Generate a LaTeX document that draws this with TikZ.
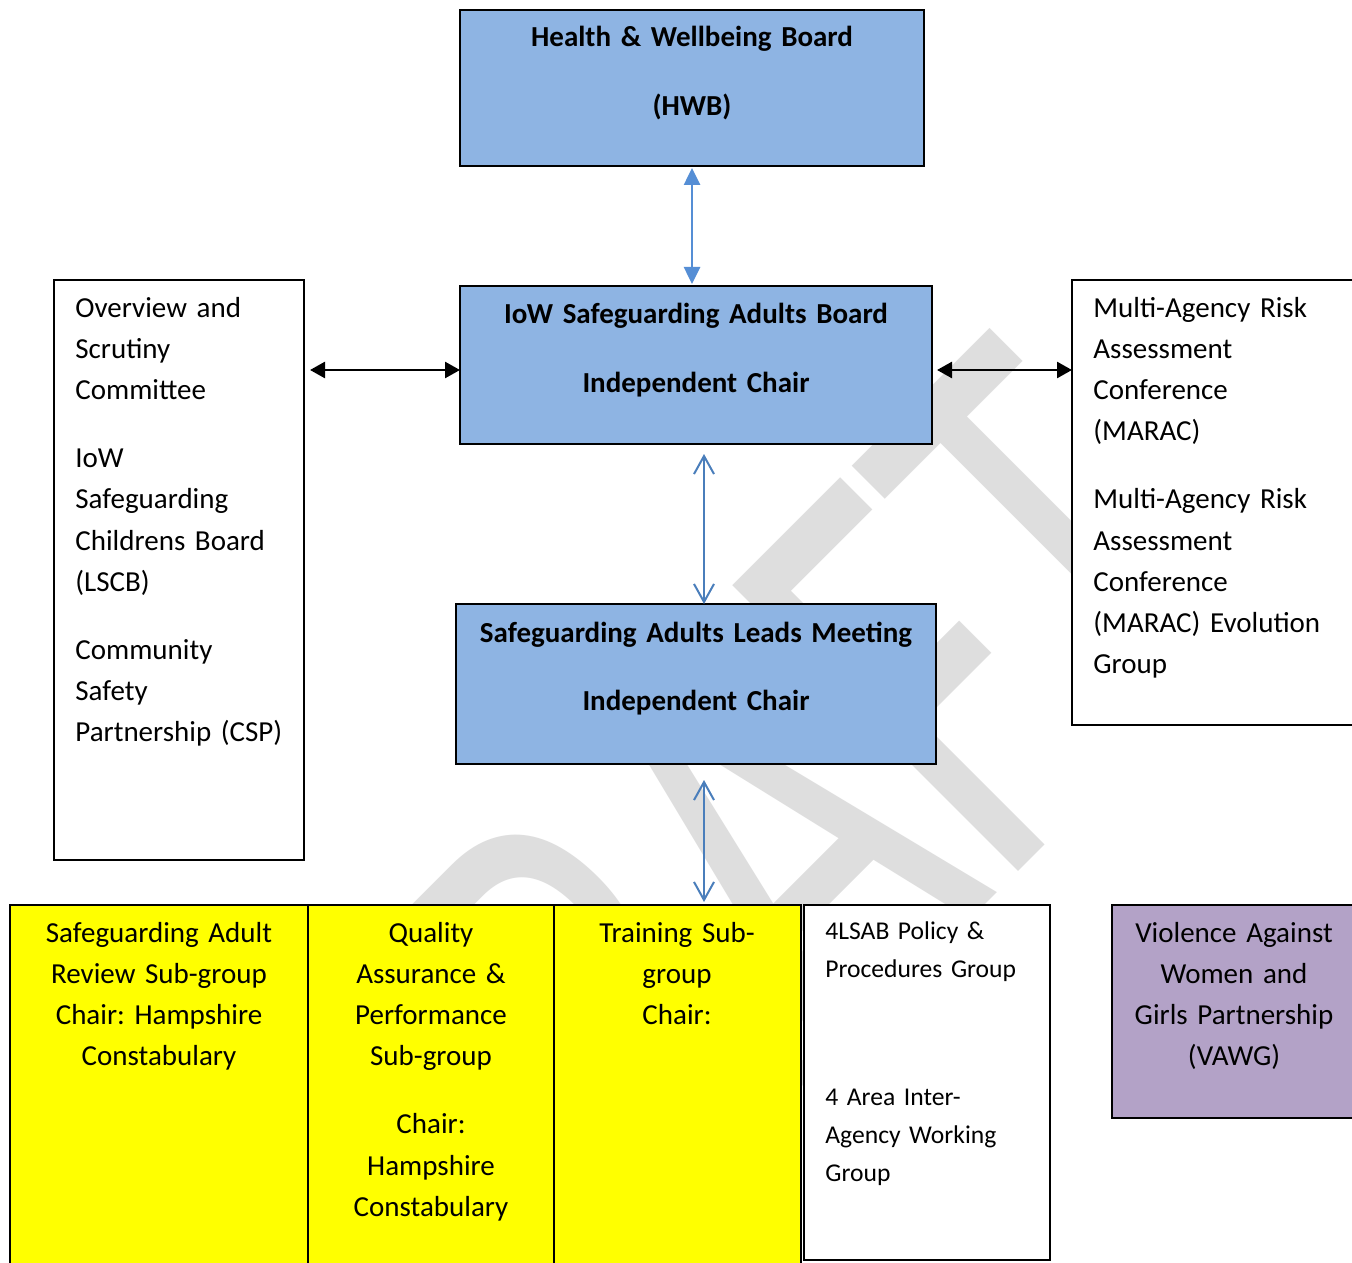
\documentclass[tikz,border=0pt]{standalone}
\usepackage{fontspec}
\setmainfont{Carlito}
\usetikzlibrary{arrows.meta}

\definecolor{boardblue}{HTML}{8EB4E3}
\definecolor{arrowblue}{HTML}{558ED5}
\definecolor{linkblue}{HTML}{4A7EBB}
\definecolor{subyellow}{HTML}{FFFF00}
\definecolor{vawgpurple}{HTML}{B3A2C7}
\definecolor{draftgrey}{HTML}{DEDEDE}

\tikzset{
  box/.style={draw=black, line width=1pt, inner sep=0pt, outer sep=0pt},
  board/.style={box, fill=boardblue},
  subgroup/.style={box, fill=subyellow},
  partner/.style={box, fill=white},
  txt/.style={inner sep=0pt, font=\fontsize{14.5}{20.6}\selectfont},
  title/.style={txt, font=\fontsize{14.5}{20.6}\selectfont\bfseries, align=center, text width=230pt, anchor=base},
  listtxt/.style={txt, align=left, text width=135pt, anchor=base west},
  midtxt/.style={txt, align=center, text width=#1, anchor=base},
  smalltxt/.style={inner sep=0pt, font=\fontsize{12.8}{19}\selectfont, align=left, text width=115pt, anchor=base west},
  solidlink/.style={arrowblue, line width=1.3pt, {Triangle[length=8.5pt,width=8pt]}-{Triangle[length=8.5pt,width=8pt]}},
  openlink/.style={linkblue, line width=1pt, {Straight Barb[length=9pt,width=10pt]}-{Straight Barb[length=9pt,width=10pt]}},
  blacklink/.style={black, line width=1.3pt, {Triangle[length=7.5pt,width=8pt]}-{Triangle[length=7.5pt,width=8pt]}},
  draftmark/.style={inner sep=0pt, text=draftgrey, rotate=45, xscale=0.667, font=\fontsize{315}{315}\selectfont}
}

\begin{document}
\frenchspacing
\begin{tikzpicture}[x=0.5pt, y=-0.5pt]
    \useasboundingbox (0,0) rectangle (1352,1262);
    \clip (0,0) rectangle (1352,1262);
    \fill[white] (0,0) rectangle (1352,1262);

    % watermark
    \node[draftmark] (draft) at (738,866) {DRAFT};

    % Boards
    \node[board, minimum width=232pt, minimum height=78pt] (hwb) at (692,88) {};
    \node[title] (hwbtext) at (692,47) {Health \& Wellbeing Board\\[13.9pt] (HWB)};

    \node[board, minimum width=236pt, minimum height=79pt] (sab) at (696,365) {};
    \node[title] (sabtext) at (696,323) {IoW Safeguarding Adults Board\\[13.9pt] Independent Chair};

    \node[board, minimum width=240pt, minimum height=80pt] (leads) at (696,684) {};
    \node[title] (leadstext) at (696,642) {Safeguarding Adults Leads Meeting\\[13.4pt] Independent Chair};

    % Partner boards
    \node[partner, minimum width=125pt, minimum height=290pt] (osc) at (179,570) {};
    \node[listtxt] (osctext) at (75,317) {Overview and\\ Scrutiny\\ Committee\\[13.5pt]
        IoW\\ Safeguarding\\ Childrens Board\\ (LSCB)\\[13.5pt]
        Community\\ Safety\\ Partnership (CSP)};

    \node[partner, minimum width=164pt, minimum height=222.5pt] (marac) at (1236,502.5) {};
    \node[listtxt] (maractext) at (1093,317) {Multi-Agency Risk\\ Assessment\\ Conference\\ (MARAC)\\[13.5pt]
        Multi-Agency Risk\\ Assessment\\ Conference\\ (MARAC) Evolution\\ Group};

    % Sub-groups
    \node[subgroup, minimum width=149pt, minimum height=197.5pt] (sar) at (159,1102.5) {};
    \node[midtxt=145pt] (sartext) at (159,942) {Safeguarding Adult\\ Review Sub-group\\ Chair: Hampshire\\ Constabulary};

    \node[subgroup, minimum width=123pt, minimum height=197.5pt] (qap) at (431,1102.5) {};
    \node[midtxt=120pt] (qaptext) at (431,942) {Quality\\ Assurance \&\\ Performance\\ Sub-group\\[13.5pt]
        Chair:\\ Hampshire\\ Constabulary};

    \node[subgroup, minimum width=123.5pt, minimum height=197.5pt] (train) at (677.5,1102.5) {};
    \node[midtxt=120pt] (traintext) at (677,942) {Training Sub-\\ group\\ Chair:};

    \node[partner, minimum width=123pt, minimum height=177.5pt] (policy) at (927,1082.5) {};
    \node[smalltxt] (policytext) at (825,939) {4LSAB Policy \&\\ Procedures Group\\[45pt]
        4 Area Inter-\\ Agency Working\\ Group};

    \node[box, fill=vawgpurple, minimum width=122pt, minimum height=106.5pt] (vawg) at (1234,1011.5) {};
    \node[midtxt=120pt] (vawgtext) at (1234,942) {Violence Against\\ Women and\\ Girls Partnership\\ (VAWG)};

    % Arrows
    \draw[solidlink, shorten <=1pt, shorten >=1pt] (hwb.south) -- (hwb.south |- sab.north);
    \draw[openlink, shorten <=5pt] ([xshift=4pt]sab.south) -- ([xshift=4pt]sab.south |- leads.north);
    \draw[openlink, shorten <=8pt, shorten >=1.5pt] ([xshift=4pt]leads.south) -- ([xshift=4pt]leads.south |- train.north);
    \draw[blacklink, shorten >=3pt] ([yshift=-2.5pt]sab.west) -- ([yshift=-2.5pt]sab.west -| osc.east);
    \draw[blacklink, shorten <=2.5pt] ([yshift=-2.5pt]sab.east) -- ([yshift=-2.5pt]sab.east -| marac.west);
\end{tikzpicture}
\end{document}
